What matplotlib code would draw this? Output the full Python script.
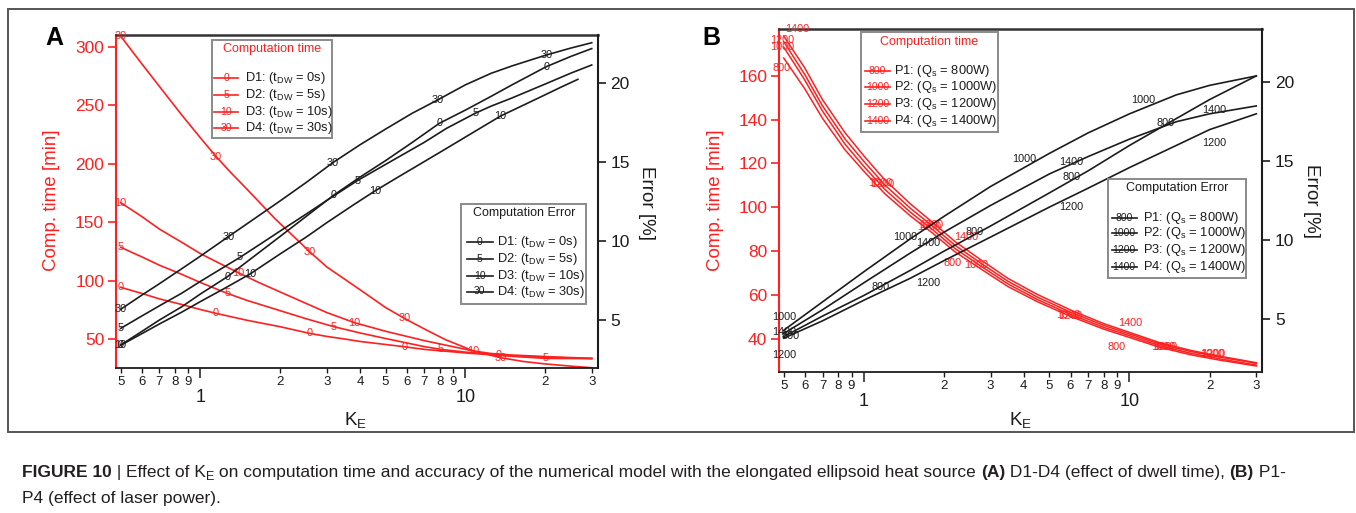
import matplotlib
matplotlib.use("Agg")
import matplotlib.pyplot as plt
from matplotlib import font_manager
from matplotlib.patches import Rectangle
from matplotlib.lines import Line2D

RED = '#ff2020'
BLK = '#1c1c1c'

plt.rcParams['font.family'] = ['Liberation Sans', 'DejaVu Sans']
plt.rcParams['mathtext.fontset'] = 'custom'
plt.rcParams['mathtext.rm'] = 'Liberation Sans'
plt.rcParams['mathtext.it'] = 'Liberation Sans:italic'
plt.rcParams['mathtext.bf'] = 'Liberation Sans:bold'
plt.rcParams['mathtext.default'] = 'regular'

# ---------------- data : panel A (dwell time) ----------------
A_time_D1_K = [0.5, 0.6, 0.7, 0.85, 1.0, 1.146, 1.5, 2.0, 2.585, 3.0, 3.5, 4.0, 5.0, 5.88, 7.0, 10.0, 13.4, 20.0, 30.0]
A_time_D1 = [94.2, 89.0, 84.3, 79.5, 75.2, 71.9, 66.0, 60.5, 54.8, 52.2, 50.0, 47.9, 45.3, 43.4, 41.1, 38.1, 36.0, 34.3, 33.4]
A_time_D1_lab = [0, 5, 8, 13, 16]
A_time_D2_K = [0.5, 0.6, 0.7, 0.85, 1.0, 1.263, 1.5, 2.0, 2.5, 3.19, 4.0, 5.0, 7.0, 8.08, 10.0, 12.5, 15.0, 20.1, 30.0]
A_time_D2 = [128.4, 120.3, 113.1, 105.3, 98.3, 89.0, 83.0, 74.2, 67.4, 60.5, 55.2, 50.4, 43.5, 41.1, 38.8, 36.9, 35.2, 33.4, 33.2]
A_time_D2_lab = [0, 5, 9, 13, 17]
A_time_D3_K = [0.5, 0.6, 0.7, 0.85, 1.0, 1.15, 1.39, 1.65, 2.0, 2.5, 3.0, 3.82, 4.4, 5.0, 7.0, 10.75, 12.5, 15.0, 20.0, 30.0]
A_time_D3 = [166.6, 154.8, 144.0, 132.7, 123.0, 116.0, 106.7, 98.6, 90.2, 80.5, 72.6, 63.9, 60.1, 56.6, 48.6, 39.7, 37.6, 36.3, 35.0, 33.4]
A_time_D3_lab = [0, 6, 11, 15]
A_time_D4_K = [0.5, 0.6, 0.7, 0.85, 1.0, 1.146, 1.3, 1.5, 1.91, 2.585, 3.0, 4.0, 5.0, 5.88, 7.0, 8.4, 10.75, 13.6, 16.5, 20.0, 25.0, 30.0]
A_time_D4 = [309, 285.5, 266, 241.6, 222, 206, 192.5, 178, 153, 124.6, 111.6, 92.2, 76.9, 67.7, 58.6, 49.5, 39.7, 34.0, 30.8, 28.7, 26.8, 25.4]
A_time_D4_lab = [0, 5, 9, 13, 17]

A_err_D1_K = [0.5, 0.6, 0.7, 0.85, 1.0, 1.263, 1.5, 2.0, 2.5, 3.19, 4.0, 5.0, 6.3, 7.97, 10.0, 12.5, 15.0, 20.2, 25.0, 30.0]
A_err_D1 = [3.42, 4.27, 5.0, 5.84, 6.65, 7.74, 8.7, 10.3, 11.55, 12.92, 14.05, 15.1, 16.25, 17.46, 18.3, 19.17, 19.9, 21.05, 21.7, 22.2]
A_err_D1_lab = [0, 5, 9, 13, 17]
A_err_D2_K = [0.5, 0.6, 0.7, 0.85, 1.0, 1.41, 1.7, 2.0, 2.5, 3.0, 3.91, 5.0, 7.0, 8.5, 10.9, 12.5, 15.0, 20.0, 25.0, 30.0]
A_err_D2 = [4.47, 5.25, 5.9, 6.7, 7.45, 8.97, 9.86, 10.64, 11.7, 12.58, 13.83, 14.86, 16.26, 17.15, 18.1, 18.55, 19.07, 19.95, 20.64, 21.16]
A_err_D2_lab = [0, 5, 10, 14]
A_err_D3_K = [0.5, 0.6, 0.7, 0.85, 1.0, 1.25, 1.54, 2.0, 2.5, 3.0, 3.8, 4.55, 5.5, 7.0, 8.5, 10.0, 13.6, 16.5, 20.0, 23.0, 26.6]
A_err_D3 = [3.40, 4.13, 4.75, 5.5, 6.17, 7.06, 7.92, 9.19, 10.24, 11.17, 12.32, 13.17, 14.0, 15.04, 15.88, 16.59, 17.93, 18.6, 19.27, 19.76, 20.25]
A_err_D3_lab = [0, 6, 11, 16]
A_err_D4_K = [0.5, 0.6, 0.7, 0.85, 1.0, 1.274, 1.5, 2.0, 2.5, 3.16, 4.0, 5.0, 6.3, 7.85, 10.0, 12.5, 15.0, 20.2, 25.0, 30.0]
A_err_D4 = [5.68, 6.57, 7.3, 8.25, 9.05, 10.28, 11.1, 12.55, 13.7, 14.97, 16.1, 17.1, 18.1, 18.94, 19.9, 20.63, 21.1, 21.79, 22.23, 22.57]
A_err_D4_lab = [0, 5, 9, 13, 17]

A_marks = ['0', '5', '10', '30']
A_names = ['D1: (t$_{DW}$ = 0s)', 'D2: (t$_{DW}$ = 5s)', 'D3: (t$_{DW}$ = 10s)', 'D4: (t$_{DW}$ = 30s)']

# ---------------- data : panel B (laser power) ----------------
B_time_K = [0.5, 0.6, 0.7, 0.85, 1.0, 1.2, 1.5, 1.8, 2.2, 2.8, 3.5, 4.5, 6.0, 8.0, 10.0, 13.0, 17.0, 22.0, 30.0]
B_time_P1 = [168, 154, 140.5, 126.2, 116.5, 106.2, 96.0, 88.6, 79.8, 71.4, 63.8, 57.0, 50.3, 44.5, 40.7, 36.2, 32.8, 30.3, 27.7]
B_time_P2 = [173, 158, 143.8, 128.8, 118.7, 108.2, 97.7, 90.2, 81.3, 72.7, 65.0, 58.0, 51.2, 45.3, 41.5, 36.9, 33.5, 30.9, 28.1]
B_time_P3 = [175.5, 160.5, 146.2, 131.2, 121.0, 110.2, 99.5, 91.8, 82.8, 74.0, 66.2, 59.1, 52.2, 46.2, 42.3, 37.7, 34.3, 31.7, 28.9]
B_time_P4 = [178, 163.5, 149, 134, 123.5, 112.5, 101.5, 93.5, 84.5, 75.5, 67.5, 60.3, 53.2, 47.0, 43.0, 38.3, 34.8, 32.1, 29.2]

B_err_K = [0.5, 0.7, 1.0, 1.5, 2.0, 3.0, 5.0, 7.0, 10.0, 15.0, 20.0, 30.0]
B_err_P1 = [3.9, 5.2, 6.5, 8.1, 9.3, 10.9, 13.0, 14.4, 16.0, 17.7, 18.9, 20.4]
B_err_P2 = [4.3, 6.1, 8.0, 10.1, 11.5, 13.4, 15.5, 16.8, 18.0, 19.2, 19.8, 20.4]
B_err_P3 = [3.8, 4.9, 6.2, 7.6, 8.7, 10.2, 12.1, 13.3, 14.6, 16.0, 17.0, 18.0]
B_err_P4 = [4.1, 5.6, 7.3, 9.2, 10.5, 12.2, 14.2, 15.3, 16.4, 17.5, 18.0, 18.5]

# text-marker label positions in panel B (K, value)
B_time_lab_P1 = ([0.49, 2.16, 8.97], [163.4, 74.5, 36.2])
B_time_lab_P2 = ([0.492, 1.156, 1.77, 2.65, 5.9, 13.4, 20.4], [173.2, 111.0, 90.8, 73.7, 50.9, 36.5, 33.2])
B_time_lab_P3 = ([0.492, 1.17, 1.79, 5.98, 13.6, 20.7], [176.3, 110.5, 91.8, 50.5, 36.2, 33.0])
B_time_lab_P4 = ([0.561, 2.43, 10.06], [181.3, 86.4, 47.2])
B_err_lab_P1 = ([0.53, 1.156, 2.62, 6.06, 13.7], [3.95, 7.03, 10.54, 14.03, 17.44])
B_err_lab_P2 = ([0.503, 1.428, 4.01, 11.27], [5.13, 10.23, 15.16, 18.88])
B_err_lab_P3 = ([0.503, 1.756, 6.06, 20.9], [2.74, 7.32, 12.09, 16.14])
B_err_lab_P4 = ([0.503, 1.756, 6.06, 20.9], [4.22, 9.85, 14.97, 18.25])

B_marks = ['800', '1000', '1200', '1400']
B_names = ['P1: (Q$_{s}$ = 800W)', 'P2: (Q$_{s}$ = 1000W)', 'P3: (Q$_{s}$ = 1200W)', 'P4: (Q$_{s}$ = 1400W)']

minor_vals = [0.5, 0.6, 0.7, 0.8, 0.9, 2, 3, 4, 5, 6, 7, 8, 9, 20, 30]
minor_labels = ['5', '6', '7', '8', '9', '2', '3', '4', '5', '6', '7', '8', '9', '2', '3']

# ---------------- figure ----------------
W, H = 1356, 513
fig = plt.figure(figsize=(W / 100, H / 100), dpi=100)


def fx(x):
    return x / W


def fy(y):
    return 1 - y / H


# outer frame
fig.add_artist(Rectangle((fx(7.5), fy(432)), (1353.5 - 7.5) / W, (432 - 8.5) / H,
                         transform=fig.transFigure, facecolor='none',
                         edgecolor='#555555', lw=1.4, zorder=0))


def make_panel(px, ylim_l, ylim_r, yt_l, yt_r):
    x0, y0, x1, y1 = px
    ax = fig.add_axes([fx(x0), fy(y1), (x1 - x0) / W, (y1 - y0) / H])
    ax.set_xscale('log')
    ax.set_xlim(0.48, 31.6)
    ax.set_ylim(*ylim_l)
    ax.set_xticks([1, 10])
    ax.set_xticklabels(['1', '10'])
    ax.set_xticks(minor_vals, minor=True)
    ax.set_xticklabels(minor_labels, minor=True)
    ax.set_yticks(yt_l)
    ax.tick_params(axis='x', which='major', direction='out', length=7, width=1.1,
                   labelsize=13, pad=8, colors=BLK)
    ax.tick_params(axis='x', which='minor', direction='out', length=3.5, width=1.0,
                   labelsize=9.5, pad=2.5, colors=BLK)
    ax.tick_params(axis='y', which='both', direction='out', length=6, width=1.2,
                   labelsize=12.5, pad=2.5, colors=RED)
    ax.spines['left'].set_color(RED)
    ax.spines['left'].set_linewidth(1.5)
    ax.spines['top'].set_color('#333333')
    ax.spines['top'].set_linewidth(1.8)
    ax.spines['bottom'].set_color(BLK)
    ax.spines['bottom'].set_linewidth(1.3)
    ax.spines['right'].set_visible(False)
    ax2 = ax.twinx()
    ax2.set_ylim(*ylim_r)
    ax2.set_yticks(yt_r)
    ax2.tick_params(axis='y', direction='out', length=6, width=1.2,
                    labelsize=12.5, pad=3, colors=BLK)
    for s in ['left', 'top', 'bottom']:
        ax2.spines[s].set_visible(False)
    ax2.spines['right'].set_color(BLK)
    ax2.spines['right'].set_linewidth(1.5)
    return ax, ax2


axA, axA2 = make_panel((116, 35, 597.7, 368), (25.2, 310.0), (1.96, 23.06),
                       [50, 100, 150, 200, 250, 300], [5, 10, 15, 20])
axB, axB2 = make_panel((779, 29.3, 1262.3, 371.7), (25.1, 181.1), (1.68, 23.35),
                       [40, 60, 80, 100, 120, 140, 160], [5, 10, 15, 20])

# ---- panel A curves ----
A_time = [(A_time_D1_K, A_time_D1, A_time_D1_lab), (A_time_D2_K, A_time_D2, A_time_D2_lab),
          (A_time_D3_K, A_time_D3, A_time_D3_lab), (A_time_D4_K, A_time_D4, A_time_D4_lab)]
A_err = [(A_err_D1_K, A_err_D1, A_err_D1_lab), (A_err_D2_K, A_err_D2, A_err_D2_lab),
         (A_err_D3_K, A_err_D3, A_err_D3_lab), (A_err_D4_K, A_err_D4, A_err_D4_lab)]

for (k, v, lab), mk in zip(A_time, A_marks):
    axA.plot(k, v, color=RED, lw=1.2, solid_joinstyle='round')
    for i in lab:
        axA.text(k[i], v[i], mk, color=RED, fontsize=7.8, ha='center', va='center', clip_on=False)
for (k, v, lab), mk in zip(A_err, A_marks):
    axA2.plot(k, v, color=BLK, lw=1.2, solid_joinstyle='round')
    for i in lab:
        axA2.text(k[i], v[i], mk, color=BLK, fontsize=7.8, ha='center', va='center', clip_on=False)

# ---- panel B curves ----
for v, (lk, lv), mk in zip([B_time_P1, B_time_P2, B_time_P3, B_time_P4],
                           [B_time_lab_P1, B_time_lab_P2, B_time_lab_P3, B_time_lab_P4], B_marks):
    axB.plot(B_time_K, v, color=RED, lw=1.1)
    for kk, vv in zip(lk, lv):
        axB.text(kk, vv, mk, color=RED, fontsize=7.8, ha='center', va='center', clip_on=False)
for v, (lk, lv), mk in zip([B_err_P1, B_err_P2, B_err_P3, B_err_P4],
                           [B_err_lab_P1, B_err_lab_P2, B_err_lab_P3, B_err_lab_P4], B_marks):
    axB2.plot(B_err_K, v, color=BLK, lw=1.2)
    for kk, vv in zip(lk, lv):
        axB2.text(kk, vv, mk, color=BLK, fontsize=7.8, ha='center', va='center', clip_on=False)

# ---- axis labels / panel letters ----
for cx, cy in [(51, 200), (715, 200)]:
    fig.text(fx(cx), fy(cy), 'Comp. time [min]', color=RED, fontsize=13.5, rotation=90,
             ha='center', va='center')
for cx, cy in [(646, 202.5), (1311.7, 200.8)]:
    fig.text(fx(cx), fy(cy), 'Error [%]', color=BLK, fontsize=13.5, rotation=270,
             ha='center', va='center')
for cx, cy in [(355, 420), (1020, 420)]:
    fig.text(fx(cx), fy(cy), 'K$_{E}$', color=BLK, fontsize=13.5, ha='center', va='center')
fig.text(fx(54), fy(38), 'A', fontsize=18, fontweight='bold', ha='center', va='center', color='black')
fig.text(fx(711.5), fy(38), 'B', fontsize=18, fontweight='bold', ha='center', va='center', color='black')


# ---- legends ----
def legend_box(box, title, tcolor, tpos, marks, names, ys, sx0, sx1, txtx, scolor, mfs):
    x0, y0, x1, y1 = box
    fig.add_artist(Rectangle((fx(x0), fy(y1)), (x1 - x0) / W, (y1 - y0) / H,
                             transform=fig.transFigure, facecolor='white',
                             edgecolor='#8a8a8a', lw=1.4, zorder=4))
    fig.text(fx(tpos[0]), fy(tpos[1]), title, color=tcolor, fontsize=9,
             ha='center', va='center', zorder=5)
    for mk, nm, y in zip(marks, names, ys):
        fig.add_artist(Line2D([fx(sx0), fx(sx1)], [fy(y), fy(y)], transform=fig.transFigure,
                              color=scolor, lw=1.2, zorder=5))
        fig.text(fx((sx0 + sx1) / 2), fy(y), mk, color=scolor, fontsize=mfs,
                 ha='center', va='center', zorder=6)
        fig.text(fx(txtx), fy(y), nm, color=BLK, fontsize=9.3, ha='left', va='center', zorder=6)


legend_box((212, 40, 332, 138), 'Computation time', RED, (272, 49), A_marks, A_names,
           [78, 95, 112, 128], 214, 238, 245, RED, 7.5)
legend_box((461, 203.5, 586, 304), 'Computation Error', BLK, (524, 212.7), A_marks, A_names,
           [241.7, 259.3, 276, 291.5], 466.5, 493, 497, BLK, 7.5)
legend_box((860.7, 32.3, 997.7, 131.7), 'Computation time', RED, (929, 41.7), B_marks, B_names,
           [70.7, 87.3, 104, 120.7], 865, 890, 893.5, RED, 7.5)
legend_box((1108.3, 179, 1245.7, 277.7), 'Computation Error', BLK, (1177, 187.7), B_marks, B_names,
           [217.7, 233.3, 250, 267.3], 1111.7, 1136.7, 1142.7, BLK, 7.5)

# ---- caption ----
try:
    font_manager.findfont('Liberation Sans Narrow', fallback_to_default=False)
    CAP_FONT = ['Liberation Sans Narrow', 'Liberation Sans']
except Exception:
    CAP_FONT = ['Liberation Sans']

renderer = fig.canvas.get_renderer()
CAP_COLOR = '#231f20'


def text_width(s, fs, weight):
    t1 = fig.text(0, 0, 'x' + s + 'x', fontsize=fs, fontweight=weight, family=CAP_FONT)
    t2 = fig.text(0, 0, 'xx', fontsize=fs, fontweight=weight, family=CAP_FONT)
    w = t1.get_window_extent(renderer).width - t2.get_window_extent(renderer).width
    t1.remove()
    t2.remove()
    return w


cap1 = [('FIGURE 10', 'bold', False), (' | ', 'normal', False), ('Effect of K', 'normal', False),
        ('E', 'normal', True),
        (' on computation time and accuracy of the numerical model with the elongated ellipsoid heat source ',
         'normal', False),
        ('(A)', 'bold', False), (' D1-D4 (effect of dwell time), ', 'normal', False),
        ('(B)', 'bold', False), (' P1-', 'normal', False)]
cap2 = [('P4 (effect of laser power).', 'normal', False)]

base = 10.0
total = sum(text_width(s, base * (0.72 if sub else 1), w) for s, w, sub in cap1)
cap_fs = base * (1290 - 22) / total


def draw_caption(segs, x, y_base):
    for s, w, sub in segs:
        fs = cap_fs * (0.72 if sub else 1)
        yy = y_base + (3 if sub else 0)
        fig.text(fx(x), fy(yy), s, fontsize=fs, fontweight=w, family=CAP_FONT,
                 color=CAP_COLOR, ha='left', va='baseline')
        x += text_width(s, fs, w)


draw_caption(cap1, 22, 477)
draw_caption(cap2, 22, 503)

fig.savefig('out.png', dpi=100)
